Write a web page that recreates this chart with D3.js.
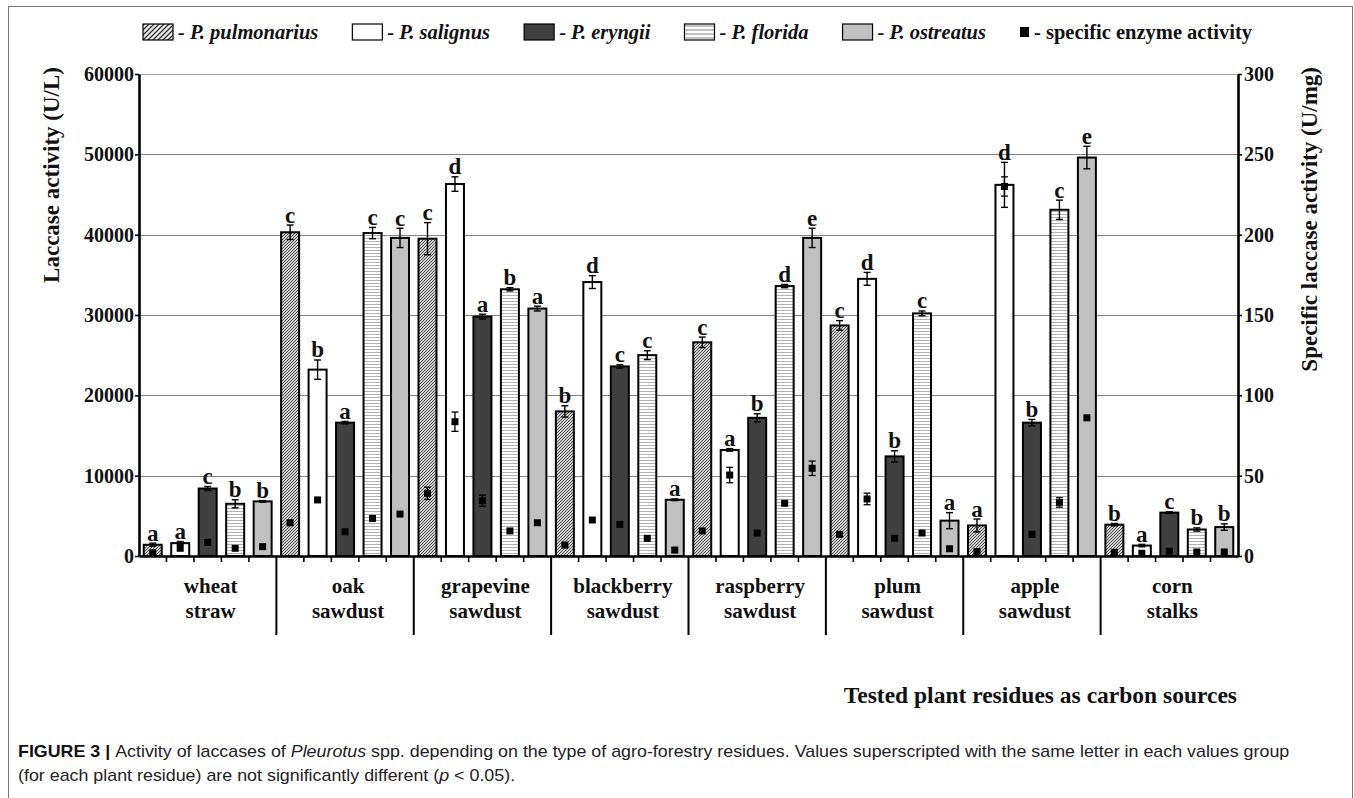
<!DOCTYPE html>
<html><head><meta charset="utf-8">
<script src="https://cdn.jsdelivr.net/npm/d3@7/dist/d3.min.js"></script>
<style>body{margin:0;background:#fff}svg{display:block}</style>
</head><body>
<svg id="c" width="1354" height="798"></svg>
<script>
// ---------- data ----------
const categories = ["wheat straw","oak sawdust","grapevine sawdust","blackberry sawdust","raspberry sawdust","plum sawdust","apple sawdust","corn stalks"];
const categoryLines = [["wheat","straw"],["oak","sawdust"],["grapevine","sawdust"],["blackberry","sawdust"],["raspberry","sawdust"],["plum","sawdust"],["apple","sawdust"],["corn","stalks"]];
const seriesNames = ["P. pulmonarius","P. salignus","P. eryngii","P. florida","P. ostreatus"];

// laccase activity (U/L)
const pulmonarius = [1400, 40300, 39500, 18000, 26600, 28700, 3800, 3900];
const salignus    = [1600, 23200, 46300, 34100, 13200, 34500, 46200, 1300];
const eryngii     = [8400, 16600, 29800, 23600, 17200, 12400, 16600, 5400];
const florida     = [6500, 40200, 33200, 25000, 33600, 30200, 43100, 3300];
const ostreatus   = [6800, 39600, 30800, 7000, 39600, 4400, 49600, 3600];
// standard deviations (U/L)
const pulmonariusErr = [200, 900, 2000, 700, 650, 600, 800, 150];
const salignusErr    = [200, 1200, 900, 800, 150, 800, 2800, 150];
const eryngiiErr     = [250, 150, 300, 200, 500, 700, 400, 100];
const floridaErr     = [500, 700, 200, 550, 200, 300, 1200, 200];
const ostreatusErr   = [100, 1200, 300, 100, 1200, 1000, 1400, 400];
// specific laccase activity (U/mg)
const pulmonariusSpec = [2, 20.7, 39, 6.8, 15.6, 13.5, 2.7, 2.3];
const salignusSpec    = [4.8, 34.9, 83.6, 22.4, 50.4, 35.5, 230, 1.7];
const eryngiiSpec     = [8.5, 15.1, 34.4, 19.7, 14.3, 11, 13.5, 3];
const floridaSpec     = [4.8, 23.4, 15.6, 11, 32.8, 14.3, 33.4, 2.5];
const ostreatusSpec   = [5.8, 26.1, 20.7, 3.7, 54.6, 4.5, 86, 2.5];
const pulmonariusSpecErr = [0, 0, 3.8, 0, 0, 0, 0, 0];
const salignusSpecErr    = [0, 0, 6, 0, 4.8, 3.6, 6, 0];
const eryngiiSpecErr     = [0, 0, 3.5, 0, 0, 0, 0, 0];
const floridaSpecErr     = [0, 0, 0, 0, 0, 0, 3, 0];
const ostreatusSpecErr   = [0, 0, 0, 0, 4.5, 0, 0, 0];
// significance letters
const pulmonariusLetters = ["a","c","c","b","c","c","a","b"];
const salignusLetters    = ["a","b","d","d","a","d","d","a"];
const eryngiiLetters     = ["c","a","a","c","b","b","b","c"];
const floridaLetters     = ["b","c","b","c","d","c","c","b"];
const ostreatusLetters   = ["b","c","a","a","e","a","e","b"];
const leftTicks = [0,10000,20000,30000,40000,50000,60000];
const rightTicks = [0,50,100,150,200,250,300];

const seriesTable = [
  {name: seriesNames[0], v: pulmonarius, e: pulmonariusErr, s: pulmonariusSpec, se: pulmonariusSpecErr, l: pulmonariusLetters, fill: "url(#pPulm)", lfill: "url(#pPulmL)"},
  {name: seriesNames[1], v: salignus, e: salignusErr, s: salignusSpec, se: salignusSpecErr, l: salignusLetters, fill: "#ffffff", lfill: "#ffffff"},
  {name: seriesNames[2], v: eryngii, e: eryngiiErr, s: eryngiiSpec, se: eryngiiSpecErr, l: eryngiiLetters, fill: "#404040", lfill: "#404040"},
  {name: seriesNames[3], v: florida, e: floridaErr, s: floridaSpec, se: floridaSpecErr, l: floridaLetters, fill: "url(#pFlor)", lfill: "url(#pFlorL)"},
  {name: seriesNames[4], v: ostreatus, e: ostreatusErr, s: ostreatusSpec, se: ostreatusSpecErr, l: ostreatusLetters, fill: "#c0c0c0", lfill: "#c0c0c0"}
];

// ---------- layout ----------
const svg = d3.select("#c");
const SERIF = "'Liberation Serif','Times New Roman',serif";
const xL = 139, xR = 1238, yB = 556, yT = 74;
const y = d3.scaleLinear().domain([0, 60000]).range([yB, yT]);
const y2 = d3.scaleLinear().domain([0, 300]).range([yB, yT]);
const x0 = d3.scaleBand().domain(categories).range([xL, xR]).padding(0);
const x1 = d3.scaleBand().domain(seriesNames).range([0, x0.bandwidth()]).paddingInner(0.345).paddingOuter(0.1725);

// patterns
const defs = svg.append("defs");
const p1 = defs.append("pattern").attr("id","pPulm").attr("patternUnits","userSpaceOnUse").attr("width",3).attr("height",3);
p1.append("rect").attr("width",3).attr("height",3).attr("fill","#d2d2d2");
p1.append("path").attr("d","M-1,1 L1,-1 M0,3 L3,0 M2,4 L4,2").attr("stroke","#4a4a4a").attr("stroke-width",1);
const p1L = defs.append("pattern").attr("id","pPulmL").attr("patternUnits","userSpaceOnUse").attr("width",5).attr("height",5);
p1L.append("rect").attr("width",5).attr("height",5).attr("fill","#e8e8e8");
p1L.append("path").attr("d","M-1,1 L1,-1 M0,5 L5,0 M4,6 L6,4").attr("stroke","#333").attr("stroke-width",1.3);
const p2 = defs.append("pattern").attr("id","pFlor").attr("patternUnits","userSpaceOnUse").attr("width",3).attr("height",3);
p2.append("rect").attr("width",3).attr("height",3).attr("fill","#ffffff");
p2.append("path").attr("d","M0,2 L0.75,1 L1.5,2 L2.25,1 L3,2").attr("fill","none").attr("stroke","#9a9a9a").attr("stroke-width",0.8);
const p2L = defs.append("pattern").attr("id","pFlorL").attr("patternUnits","userSpaceOnUse").attr("width",4).attr("height",4);
p2L.append("rect").attr("width",4).attr("height",4).attr("fill","#ffffff");
p2L.append("path").attr("d","M0,3 L2,1 M2,3 L4,1").attr("fill","none").attr("stroke","#777").attr("stroke-width",0.9);

// frame
svg.append("rect").attr("x",8.5).attr("y",6.5).attr("width",1344).attr("height",830)
  .attr("fill","none").attr("stroke","#777").attr("stroke-width",1);

// gridlines
svg.append("g").selectAll("line").data(leftTicks.filter(d => d > 0)).join("line")
  .attr("x1", xL).attr("x2", xR).attr("y1", d => Math.round(y(d)) + 0.5).attr("y2", d => Math.round(y(d)) + 0.5)
  .attr("stroke", d => d === 60000 ? "#a8a8a8" : "#858585").attr("stroke-width", 1.2);

// bars
const gBars = svg.append("g");
seriesTable.forEach(s => {
  categories.forEach((c, j) => {
    const bx = x0(c) + x1(s.name);
    gBars.append("rect").attr("x", bx).attr("y", y(s.v[j])).attr("width", x1.bandwidth())
      .attr("height", yB - y(s.v[j])).attr("fill", s.fill).attr("stroke", "#000").attr("stroke-width", 2);
  });
});

// error bars for laccase
const gErr = svg.append("g").attr("stroke","#000").attr("stroke-width",1.4);
seriesTable.forEach(s => {
  categories.forEach((c, j) => {
    const cx = x0(c) + x1(s.name) + x1.bandwidth() / 2;
    const yt = y(s.v[j] + s.e[j]), yb = y(s.v[j] - s.e[j]);
    gErr.append("line").attr("x1", cx).attr("x2", cx).attr("y1", yt).attr("y2", yb);
    gErr.append("line").attr("x1", cx - 3.5).attr("x2", cx + 3.5).attr("y1", yt).attr("y2", yt);
    gErr.append("line").attr("x1", cx - 3.5).attr("x2", cx + 3.5).attr("y1", yb).attr("y2", yb);
  });
});

// specific activity squares
const gSq = svg.append("g");
seriesTable.forEach(s => {
  categories.forEach((c, j) => {
    const cx = x0(c) + x1(s.name) + x1.bandwidth() / 2;
    const cy = y2(s.s[j]);
    if (s.se[j] > 0) {
      const yt = y2(s.s[j] + s.se[j]), yb = y2(s.s[j] - s.se[j]);
      gSq.append("line").attr("x1", cx).attr("x2", cx).attr("y1", yt).attr("y2", yb).attr("stroke","#000").attr("stroke-width",1.3);
      [yt, yb].forEach(yy => gSq.append("line").attr("x1", cx - 3.5).attr("x2", cx + 3.5).attr("y1", yy).attr("y2", yy).attr("stroke","#000").attr("stroke-width",1.3));
    }
    gSq.append("rect").attr("x", cx - 3.5).attr("y", cy - 3.5).attr("width", 7).attr("height", 7).attr("fill", "#000");
  });
});

// letters
const gLet = svg.append("g").attr("font-family", SERIF).attr("font-weight","bold").attr("font-size", 23).attr("text-anchor","middle").attr("fill","#111");
seriesTable.forEach(s => {
  categories.forEach((c, j) => {
    const cx = x0(c) + x1(s.name) + x1.bandwidth() / 2;
    gLet.append("text").attr("x", cx).attr("y", y(s.v[j] + s.e[j]) - 2.5).text(s.l[j]);
  });
});

// left axis
const axL = svg.append("g").attr("transform", `translate(${xL},0)`)
  .call(d3.axisLeft(y).tickValues(leftTicks).tickFormat(d3.format("d")).tickSize(4).tickSizeOuter(0).tickPadding(1));
// right axis
const axR = svg.append("g").attr("transform", `translate(${xR},0)`)
  .call(d3.axisRight(y2).tickValues(rightTicks).tickFormat(d3.format("d")).tickSize(4).tickSizeOuter(0).tickPadding(2));
[axL, axR].forEach(a => {
  a.select(".domain").attr("stroke","#000").attr("stroke-width",2.6);
  a.selectAll(".tick line").attr("stroke","#000").attr("stroke-width",1.6);
  a.selectAll(".tick text").attr("font-family", SERIF).attr("font-weight","bold").attr("font-size",20).attr("fill","#111");
});

// bottom axis
const axB = svg.append("g").attr("transform", `translate(0,${yB})`)
  .call(d3.axisBottom(x0).tickSize(0).tickSizeOuter(0).tickFormat(""));
axB.select(".domain").attr("stroke","#000").attr("stroke-width",2.6);
const gT = svg.append("g").attr("stroke","#000");
categories.forEach((c, j) => {
  for (let k = 1; k < seriesNames.length; k++) {
    const tx = x0(c) + k * x1.step();
    gT.append("line").attr("x1", tx).attr("x2", tx).attr("y1", yB).attr("y2", yB + 6).attr("stroke-width", 1.6);
  }
  if (j > 0) {
    gT.append("line").attr("x1", x0(c)).attr("x2", x0(c)).attr("y1", yB).attr("y2", 635).attr("stroke-width", 2);
  }
});
// category labels
const gC = svg.append("g").attr("font-family", SERIF).attr("font-weight","bold").attr("font-size", 21).attr("text-anchor","middle").attr("fill","#111");
categories.forEach((c, j) => {
  const t = gC.append("text").attr("x", x0(c) + x0.bandwidth() / 2 + 3).attr("y", 593);
  categoryLines[j].forEach((ln, k) => t.append("tspan").attr("x", x0(c) + x0.bandwidth() / 2 + 3).attr("dy", k === 0 ? 0 : 25).text(ln));
});

// axis titles
svg.append("text").attr("transform", "translate(59,67) rotate(-90)").attr("text-anchor","end")
  .attr("font-family", SERIF).attr("font-weight","bold").attr("font-size", 23).attr("fill","#111").text("Laccase activity (U/L)");
svg.append("text").attr("transform", "translate(1317,67) rotate(-90)").attr("text-anchor","end")
  .attr("font-family", SERIF).attr("font-weight","bold").attr("font-size", 23).attr("fill","#111").text("Specific laccase activity (U/mg)");
svg.append("text").attr("x", 1237).attr("y", 703).attr("text-anchor","end")
  .attr("font-family", SERIF).attr("font-weight","bold").attr("font-size", 23.5).attr("fill","#111").text("Tested plant residues as carbon sources");

// legend
const gLeg = svg.append("g").attr("font-family", SERIF).attr("font-weight","bold").attr("font-size", 20.5).attr("fill","#111");
const legItems = seriesTable.map(s => ({label: "- " + s.name, fill: s.lfill, italic: true, sw: 30}))
  .concat([{label: "- specific enzyme activity", fill: null, italic: false, sw: 9}]);
const legStart = 143, legEnd = 1252, swGap = 5;
const legNodes = legItems.map(it => {
  const g = gLeg.append("g");
  if (it.fill) g.append("rect").attr("x", 0).attr("y", 24).attr("width", 30).attr("height", 16).attr("fill", it.fill).attr("stroke","#000").attr("stroke-width",1.2);
  else g.append("rect").attr("x", 0).attr("y", 27).attr("width", 9).attr("height", 10).attr("fill", "#000");
  const t = g.append("text").attr("x", it.sw + swGap).attr("y", 39).attr("font-style", it.italic ? "italic" : "normal").text(it.label);
  return {g, w: it.sw + swGap + t.node().getComputedTextLength()};
});
const totalW = legNodes.reduce((a, n) => a + n.w, 0);
const gap = (legEnd - legStart - totalW) / (legNodes.length - 1);
let cx = legStart;
legNodes.forEach(n => { n.g.attr("transform", `translate(${cx},0)`); cx += n.w + gap; });

// caption
const SANS = "'Liberation Sans','Helvetica Neue',Arial,sans-serif";
const cap1 = svg.append("text").attr("font-family", SANS).attr("font-size", 17).attr("fill","#222").attr("y", 757);
cap1.append("tspan").attr("font-weight","bold").attr("fill","#111").text("FIGURE 3 | ");
cap1.append("tspan").text("Activity of laccases of ");
cap1.append("tspan").attr("font-style","italic").text("Pleurotus");
cap1.append("tspan").text(" spp. depending on the type of agro-forestry residues. Values superscripted with the same letter in each values group");
const cap2 = svg.append("text").attr("font-family", SANS).attr("font-size", 17).attr("fill","#222").attr("y", 781);
cap2.append("tspan").text("(for each plant residue) are not significantly different (");
cap2.append("tspan").attr("font-style","italic").text("p");
cap2.append("tspan").text(" < 0.05).");
const capX = 18, capEnd = 1290;
const w1 = cap1.node().getComputedTextLength();
const sx = (capEnd - capX) / w1;
cap1.attr("transform", `translate(${capX},0) scale(${sx},1)`);
cap2.attr("transform", `translate(${capX},0) scale(${sx},1)`);
</script>
</body></html>
